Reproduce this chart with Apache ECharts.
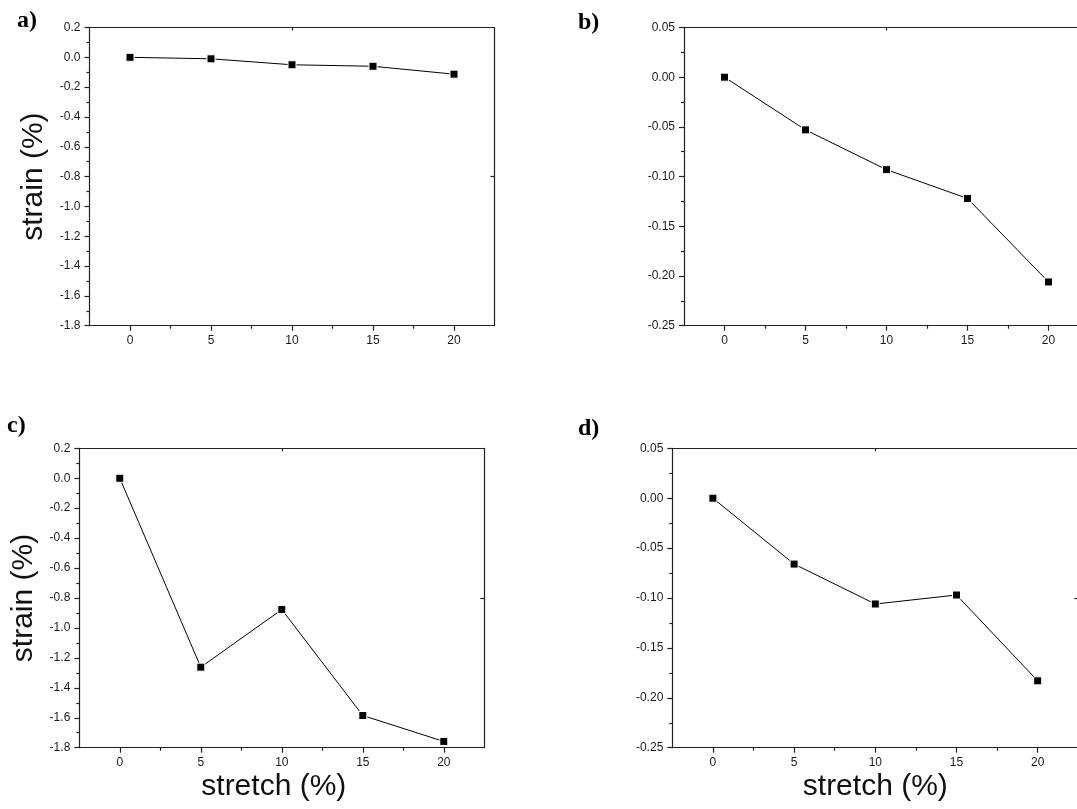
<!DOCTYPE html>
<html>
<head>
<meta charset="utf-8">
<script src="https://cdn.jsdelivr.net/npm/echarts@6/dist/echarts.min.js"></script>
<style>
  html, body { margin: 0; padding: 0; background: #fff; overflow: hidden; }
  /* wider than the window: panels b and d are cut at the right edge in the source figure */
  #chart { width: 1100px; height: 809px; }
</style>
</head>
<body>
<div id="chart"></div>
<script>
// stretch values (x) shared by all four panels
var stretch = [0, 5, 10, 15, 20];

// strain (%)
var strainA = [0, -0.01, -0.05, -0.06, -0.113];
var strainB = [0, -0.053, -0.093, -0.122, -0.206];
var strainC = [0, -1.262, -0.877, -1.585, -1.758];
var strainD = [0, -0.066, -0.106, -0.097, -0.183];

// tick labels
var xTicks = [0, 5, 10, 15, 20];
var xMinorTicks = [2.5, 7.5, 12.5, 17.5];
var panelLabels = ['a)', 'b)', 'c)', 'd)'];

var axisColor = '#222';
var labelFont = 'Liberation Sans, Arial, sans-serif';

var grids = [];
var xAxes = [];
var yAxes = [];
var series = [];

function addPanel(grid, values, yMin, yMax, yStep, decimals, showYName, showXName, xNamePad) {
    var g = grids.length;
    grid.outerBoundsMode = 'none';
    grids.push(grid);
    var xi = xAxes.length;
    var lineStyle = { color: axisColor, width: 1.2 };

    // bottom axis: major ticks + labels
    xAxes.push({
        gridIndex: g, type: 'value', position: 'bottom', min: -2.5, max: 22.5,
        axisLine: { show: true, onZero: false, lineStyle: lineStyle },
        axisTick: { show: true, customValues: xTicks, length: 5, lineStyle: lineStyle },
        axisLabel: { customValues: xTicks, margin: 9, fontSize: 12, color: '#1a1a1a', fontFamily: labelFont },
        splitLine: { show: false },
        name: showXName ? 'stretch (%)' : '',
        nameLocation: 'middle', nameGap: 24,
        nameTextStyle: { fontSize: 30, color: '#111', fontFamily: labelFont, padding: xNamePad || 0 }
    });
    // bottom axis: minor ticks only
    xAxes.push({
        gridIndex: g, type: 'value', position: 'bottom', min: -2.5, max: 22.5,
        axisLine: { show: false, onZero: false },
        axisTick: { show: true, customValues: xMinorTicks, length: 3, lineStyle: lineStyle },
        axisLabel: { show: false },
        splitLine: { show: false }
    });
    // top frame with a single inner tick
    xAxes.push({
        gridIndex: g, type: 'value', position: 'top', min: -2.5, max: 22.5,
        axisLine: { show: true, onZero: false, lineStyle: lineStyle },
        axisTick: { show: true, customValues: [10], inside: true, length: 3, lineStyle: lineStyle },
        axisLabel: { show: false },
        splitLine: { show: false }
    });

    var yi = yAxes.length;
    yAxes.push({
        gridIndex: g, type: 'value', position: 'left', min: yMin, max: yMax, interval: yStep,
        axisLine: { show: true, onZero: false, lineStyle: lineStyle },
        axisTick: { show: true, length: 5, lineStyle: lineStyle },
        minorTick: { show: true, splitNumber: 2, length: 3, lineStyle: lineStyle },
        axisLabel: {
            margin: 9, fontSize: 12, color: '#1a1a1a', fontFamily: labelFont,
            formatter: function (v) { return (Math.abs(v) < 1e-9 ? 0 : v).toFixed(decimals); }
        },
        splitLine: { show: false },
        name: showYName ? 'strain (%)' : '',
        nameLocation: 'middle', nameGap: 41, nameRotate: 90,
        nameTextStyle: { fontSize: 30, color: '#111', fontFamily: labelFont }
    });
    // right frame with a single inner tick at the middle
    yAxes.push({
        gridIndex: g, type: 'value', position: 'right', min: yMin, max: yMax,
        axisLine: { show: true, onZero: false, lineStyle: lineStyle },
        axisTick: { show: true, customValues: [(yMin + yMax) / 2], inside: true, length: 4, lineStyle: lineStyle },
        axisLabel: { show: false },
        splitLine: { show: false }
    });

    series.push({
        type: 'line',
        xAxisIndex: xi, yAxisIndex: yi,
        data: stretch.map(function (x, i) { return [x, values[i]]; }),
        symbol: 'rect', symbolSize: 8,
        itemStyle: { color: '#000', borderColor: '#fff', borderWidth: 1 },
        lineStyle: { color: '#000', width: 1 },
        z: 3
    });
}

addPanel({ left: 89.5, width: 405, top: 27.5, height: 298.2 }, strainA, -1.8, 0.2, 0.2, 1, true, false);
addPanel({ left: 684, width: 405, top: 27.5, height: 298.2 }, strainB, -0.25, 0.05, 0.05, 2, false, false);
addPanel({ left: 79.3, width: 405, top: 448.3, height: 299.4 }, strainC, -1.8, 0.2, 0.2, 1, true, true, [0, 16, 0, 0]);
addPanel({ left: 672.3, width: 406, top: 448.3, height: 299.4 }, strainD, -0.25, 0.05, 0.05, 2, false, true);

var labelPos = [[17, 9], [578, 11], [7, 414], [578, 417]];
var graphics = panelLabels.map(function (t, i) {
    return {
        type: 'text', left: labelPos[i][0], top: labelPos[i][1],
        style: { text: t, fontSize: 24, fontWeight: 'bold', fontFamily: 'Liberation Serif, serif', fill: '#000' }
    };
});

var chart = echarts.init(document.getElementById('chart'));
chart.setOption({
    animation: false,
    backgroundColor: '#fff',
    grid: grids,
    xAxis: xAxes,
    yAxis: yAxes,
    series: series,
    graphic: graphics
});
</script>
</body>
</html>
